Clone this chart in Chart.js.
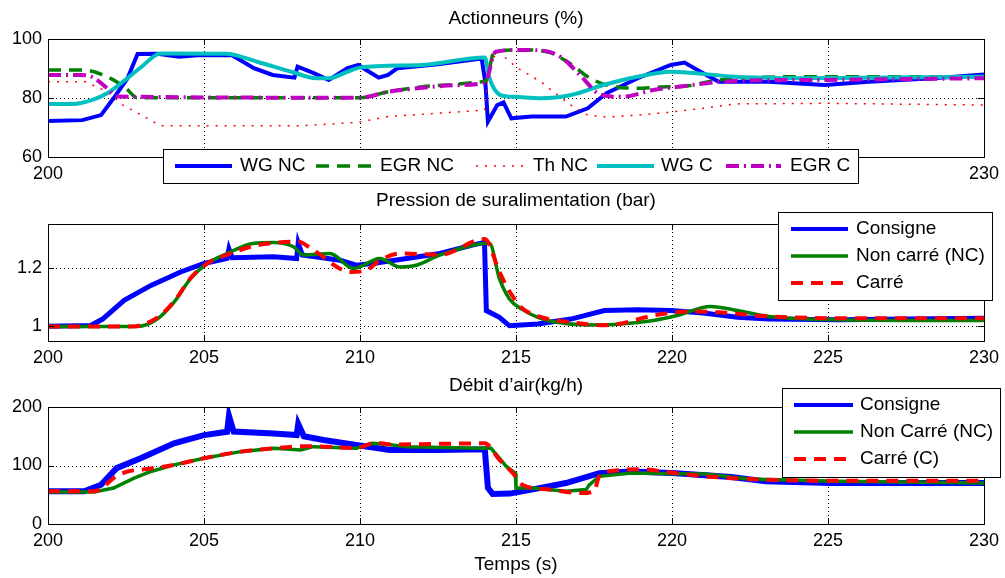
<!DOCTYPE html>
<html><head><meta charset="utf-8">
<script src="https://cdn.jsdelivr.net/npm/chart.js@4.4.1/dist/chart.umd.min.js"></script>
<style>
body{margin:0;background:#fff;width:1005px;height:578px;overflow:hidden;position:relative}
canvas{position:absolute;left:0}
</style></head><body>
<canvas id="c1" width="1005" height="185" style="top:0px"></canvas>
<canvas id="c2" width="1005" height="185" style="top:185px"></canvas>
<canvas id="c3" width="1005" height="208" style="top:370px"></canvas>
<script>
// ---------- tick labels ----------
const xTicks = [200,205,210,215,220,225,230];
const yTicks1 = [60,80,100];
const yTicks2 = [1,1.2];
const yTicks3 = [0,100,200];

// ---------- Plot 1 : Actionneurs (%) ----------
const tWgNC = [200,201.1,201.7,202.1,202.55,202.87,203.5,204.2,204.8,205.3,205.9,206.6,207.2,207.9,208.0,208.5,209.0,209.6,209.95,210.2,210.6,210.9,211.2,212.5,213.9,214.02,214.1,214.4,214.6,214.85,215.5,216.6,217.3,217.9,218.9,219.96,220.4,221.0,221.5,223.1,224.9,226.3,228.4,230];
const wgNC  = [72.2,72.5,74.2,79.9,86.7,94.9,95,94,94.5,94.5,94.5,90.1,87.8,86.9,90.6,88.5,86.1,90.1,91.2,89.5,86.9,87.8,90.1,91.4,93.4,85,72,77.6,78.5,73.1,73.7,73.7,76.5,81.6,86.7,91.2,92,88.4,85.5,85.5,84.4,85.5,86.7,88.0];
const tEgrNC = [200,201.1,201.9,202.5,202.85,210.0,210.9,212.0,213.0,213.9,214.05,214.3,215.2,216.0,216.8,217.3,217.9,218.9,219.85,220.2,221.5,224.2,230];
const egrNC  = [89.5,89.5,87.2,83.3,80.1,80.1,82.1,83.8,84.6,85.5,86,95.7,96.3,95.7,91.2,87.2,84.4,83.3,83.8,83.8,86.1,87.2,87.2];
const tThNC = [200,201.2,201.9,202.4,203.0,203.6,208.1,209.9,210.9,212.0,214.0,214.1,214.4,215.05,215.8,216.2,216.76,217.3,217.9,218.9,219.85,221.0,222.0,224.9,230];
const thNC  = [85.5,85.5,82.1,77.6,74.2,70.6,70.6,71.7,73.7,74.5,75.9,90,96,90.1,85.5,82.1,77.6,74.2,73.5,74.2,75.1,76.5,78,78.2,77.6];
const tWgC = [200,200.8,201.4,201.9,202.4,203.0,203.6,205.7,206.7,207.8,208.6,209.0,209.6,210.0,212.0,214.0,214.15,214.5,214.95,215.8,216.76,217.8,218.9,219.96,222.0,224.2,230];
const wgC  = [78,78,79.3,81.6,85.5,90.6,95.1,95,92.3,88.9,86.7,86.7,88.9,90.3,91.2,93.7,86.7,81,80.4,79.9,81,84.4,87.2,88.9,87.2,86.7,87.2];
const tEgrC = [200,201.0,201.4,201.9,202.2,210.0,210.9,212.0,213.0,213.9,214.05,214.35,215.2,216.0,216.5,217.1,217.7,218.4,219.4,220.2,222.0,224.5,230];
const egrC  = [87.8,87.8,87.2,83.3,80.5,80.1,82.1,83.5,84.3,85,86,95.7,96.3,95.8,93.4,87.2,81.2,80.4,82.7,83.8,85.8,86.1,86.7];

// ---------- Plot 2 : Pression de suralimentation (bar) ----------
const tCons2 = [200,201.37,201.75,202.44,203.3,204.25,205.0,205.74,205.8,205.9,207.23,207.97,208.02,208.15,209.36,209.88,210.4,211.5,212.56,213.6,213.99,214.05,214.47,214.79,215.7,216.76,217.83,218.9,219.96,221.0,222.1,223.1,225.3,230];
const cons2  = [1.0,1.003,1.025,1.089,1.14,1.186,1.215,1.232,1.265,1.235,1.238,1.232,1.285,1.244,1.226,1.209,1.215,1.232,1.249,1.278,1.287,1.054,1.031,1.002,1.008,1.025,1.054,1.057,1.054,1.046,1.031,1.025,1.023,1.028];
const tNc2 = [200,202.87,203.5,204.04,204.57,205.1,205.74,206.6,207.23,207.87,208.19,209.04,209.79,210.64,211.28,211.8,212.56,214.15,214.47,214.79,215.17,215.7,216.2,217.3,218.36,219.4,220.16,221.24,222.1,223.1,225.3,230];
const nc2  = [1.0,1.0,1.025,1.083,1.163,1.215,1.249,1.284,1.287,1.272,1.244,1.249,1.198,1.232,1.203,1.209,1.244,1.284,1.163,1.094,1.06,1.031,1.016,1.005,1.008,1.02,1.037,1.068,1.054,1.034,1.023,1.02];
const tC2 = [200,202.7,203.5,204.04,204.57,205.1,205.74,206.6,207.23,208.0,208.5,209.7,210.2,210.64,211.3,212.56,214.0,214.47,214.79,215.17,215.7,216.76,217.83,218.36,219.4,220.5,221.5,223.1,225.3,230];
const c2  = [1.0,1.0,1.03,1.085,1.165,1.215,1.245,1.275,1.285,1.29,1.261,1.186,1.192,1.226,1.249,1.245,1.299,1.186,1.12,1.065,1.035,1.014,1.004,1.01,1.037,1.051,1.048,1.034,1.028,1.028];

// ---------- Plot 3 : Débit d'air (kg/h) ----------
const tCons3 = [200,201.16,201.7,202.2,202.97,204.04,205.0,205.74,205.8,205.95,207.23,207.97,208.02,208.2,208.83,209.88,210.96,212.5,214.0,214.1,214.25,214.8,215.5,216.6,217.67,218.7,220.0,221.9,223.0,225.1,230];
const cons3  = [55.9,56,67.2,95.5,112.4,137.9,152,157.6,185,158,154.8,152,171,150,143.5,135,126.6,126.6,127.7,61.6,51.4,52,58.8,70,87,89.8,87,80.2,72.9,70,70];
const tNc3 = [200,201.48,202.1,202.76,203.3,204.04,205.0,206.17,207.23,208.1,208.5,209.88,210.4,210.9,211.5,213.9,214.2,214.69,214.98,215.0,215.5,216.6,217.25,217.35,217.67,218.7,220.0,221.08,222.46,225.3,230];
const nc3  = [54.8,54.8,61.6,78.5,89.8,101,112.4,123.7,129.4,126.6,132.2,129.4,137.9,136,132.2,129.4,129.4,98.3,87,61.6,61.6,55.9,58.8,67,81.4,87,85.9,85.3,76.8,72.9,70];
const tC3 = [200,201.5,201.8,202.1,202.55,202.97,204.04,205.0,206.17,207.23,208.3,209.88,210.5,211.0,214.0,214.47,214.9,215.2,216.07,217.1,217.5,217.67,218.2,218.95,220.1,221.1,222.46,225.3,230];
const c3  = [55.9,55.9,64.4,78.5,89.8,92.7,101,112.4,123.7,129.4,133,130,139,136,137.9,109.6,87,67.2,58.8,53,55.9,81.4,91.5,93.8,87,81.4,76.8,74,74];

const BLUE='#0000ff', GREEN='#008000', RED='#ff0000', CYAN='#00bfbf', MAG='#bf00bf';
const FONT='Liberation Sans, Arial, Helvetica, sans-serif';

function zip(t,v){ return t.map((x,i)=>({x:x,y:v[i]})); }

const decor = {
  id:'decor',
  beforeDatasetsDraw(chart, args, o){
    const ctx=chart.ctx, a=chart.chartArea, xs=chart.scales.x, ys=chart.scales.y;
    ctx.save();
    ctx.strokeStyle='#000'; ctx.lineWidth=1; ctx.setLineDash([1,3]);
    xs.ticks.forEach(t=>{ const p=Math.round(xs.getPixelForValue(t.value))+0.5;
      if(p>a.left+2 && p<a.right-2){ ctx.beginPath(); ctx.moveTo(p,a.top); ctx.lineTo(p,a.bottom); ctx.stroke(); }});
    ys.ticks.forEach(t=>{ const p=Math.round(ys.getPixelForValue(t.value))+0.5;
      if(p>a.top+2 && p<a.bottom-2){ ctx.beginPath(); ctx.moveTo(a.left,p); ctx.lineTo(a.right,p); ctx.stroke(); }});
    ctx.restore();
  },
  afterDraw(chart, args, o){
    const ctx=chart.ctx, a=chart.chartArea, xs=chart.scales.x, ys=chart.scales.y;
    ctx.save();
    ctx.setLineDash([]); ctx.strokeStyle='#000'; ctx.lineWidth=1;
    // inner ticks
    xs.ticks.forEach(t=>{ const p=Math.round(xs.getPixelForValue(t.value))+0.5;
      ctx.beginPath(); ctx.moveTo(p,a.bottom); ctx.lineTo(p,a.bottom-6); ctx.moveTo(p,a.top); ctx.lineTo(p,a.top+6); ctx.stroke(); });
    ys.ticks.forEach(t=>{ const p=Math.round(ys.getPixelForValue(t.value))+0.5;
      ctx.beginPath(); ctx.moveTo(a.left,p); ctx.lineTo(a.left+6,p); ctx.moveTo(a.right,p); ctx.lineTo(a.right-6,p); ctx.stroke(); });
    // box
    ctx.strokeRect(Math.round(a.left)+0.5, Math.round(a.top)+0.5, Math.round(a.right-a.left), Math.round(a.bottom-a.top));
    // title
    ctx.fillStyle='#000'; ctx.font='19px '+FONT; ctx.textAlign='center'; ctx.textBaseline='middle';
    ctx.fillText(o.title, (a.left+a.right)/2, o.titleY);
    if(o.xlabel){ ctx.fillText(o.xlabel, (a.left+a.right)/2, o.xlabelY); }
    // legend
    const L=o.legend;
    ctx.fillStyle='#fff'; ctx.fillRect(L.x, L.y, L.w, L.h);
    ctx.strokeStyle='#000'; ctx.lineWidth=1; ctx.strokeRect(L.x+0.5, L.y+0.5, L.w, L.h);
    ctx.textAlign='left';
    L.items.forEach(it=>{
      const ds=chart.data.datasets[it.ds];
      ctx.strokeStyle=ds.borderColor; ctx.lineWidth=it.lw||ds.borderWidth; ctx.setLineDash(ds.borderDash||[]);
      ctx.lineCap='butt';
      ctx.beginPath(); ctx.moveTo(it.lx0, it.y); ctx.lineTo(it.lx1, it.y); ctx.stroke();
      ctx.setLineDash([]); ctx.fillStyle='#000'; ctx.font='19px '+FONT;
      ctx.fillText(ds.label, it.tx, it.y);
    });
    ctx.restore();
  }
};

function makeChart(id, datasets, ymin, ymax, yTicks, padTop, xAxisH, deco){
  const n=datasets.length;
  datasets.forEach((d,i)=>{ d.order=n-i; d.pointRadius=0; d.fill=false; if(d.cubicInterpolationMode===undefined) d.tension=0; d.borderCapStyle='butt'; });
  return new Chart(document.getElementById(id), {
    type:'line',
    data:{datasets:datasets},
    options:{
      responsive:false, animation:false, devicePixelRatio:1,
      layout:{padding:{top:padTop,right:19,left:0,bottom:0}},
      plugins:{legend:{display:false}, tooltip:{enabled:false}, title:{display:false}, decor:deco},
      scales:{
        x:{type:'linear', min:200, max:230,
           afterBuildTicks:s=>{ s.ticks=xTicks.map(v=>({value:v})); },
           afterFit:s=>{ s.height=xAxisH; },
           grid:{display:false, drawTicks:false}, border:{display:false},
           ticks:{color:'#000', font:{family:FONT,size:18}, padding:6, maxRotation:0, autoSkip:false, callback:v=>String(v)}},
        y:{type:'linear', min:ymin, max:ymax,
           afterBuildTicks:s=>{ s.ticks=yTicks.map(v=>({value:v})); },
           afterFit:s=>{ s.width=48; },
           grid:{display:false, drawTicks:false}, border:{display:false},
           ticks:{color:'#000', font:{family:FONT,size:18}, padding:6, autoSkip:false, callback:v=>String(v)}}
      }
    },
    plugins:[decor]
  });
}

// Chart 1
makeChart('c1', [
  {label:'WG NC', data:zip(tWgNC,wgNC), borderColor:BLUE, borderWidth:4},
  {label:'EGR NC', data:zip(tEgrNC,egrNC), borderColor:GREEN, borderWidth:3.5, borderDash:[13,8], cubicInterpolationMode:'monotone'},
  {label:'Th NC', data:zip(tThNC,thNC), borderColor:RED, borderWidth:1.5, borderDash:[2,7]},
  {label:'WG C', data:zip(tWgC,wgC), borderColor:CYAN, borderWidth:4, cubicInterpolationMode:'monotone'},
  {label:'EGR C', data:zip(tEgrC,egrC), borderColor:MAG, borderWidth:4, borderDash:[13,5,2,5], cubicInterpolationMode:'monotone'}
], 60, 100, yTicks1, 39, 28, {
  title:'Actionneurs (%)', titleY:19,
  legend:{x:163, y:149, w:695, h:34, items:[
    {ds:0, lx0:175, lx1:232, tx:240, y:166},
    {ds:1, lx0:316, lx1:372, tx:380, y:166},
    {ds:2, lx0:476, lx1:530, tx:533, y:166},
    {ds:3, lx0:597, lx1:654, tx:661, y:166},
    {ds:4, lx0:726, lx1:781, tx:790, y:166}
  ]}
});

// Chart 2
makeChart('c2', [
  {label:'Consigne', data:zip(tCons2,cons2), borderColor:BLUE, borderWidth:5},
  {label:'Non carré (NC)', data:zip(tNc2,nc2), borderColor:GREEN, borderWidth:3.5, cubicInterpolationMode:'monotone'},
  {label:'Carré', data:zip(tC2,c2), borderColor:RED, borderWidth:4, borderDash:[12,8], cubicInterpolationMode:'monotone'}
], 0.95, 1.35, yTicks2, 39, 29, {
  title:'Pression de suralimentation (bar)', titleY:16,
  legend:{x:778, y:27, w:214, h:88, items:[
    {ds:0, lx0:791, lx1:848, tx:856, y:44, lw:4},
    {ds:1, lx0:791, lx1:848, tx:856, y:71},
    {ds:2, lx0:791, lx1:848, tx:856, y:98}
  ]}
});

// Chart 3
makeChart('c3', [
  {label:'Consigne', data:zip(tCons3,cons3), borderColor:BLUE, borderWidth:6},
  {label:'Non Carré (NC)', data:zip(tNc3,nc3), borderColor:GREEN, borderWidth:3.5},
  {label:'Carré (C)', data:zip(tC3,c3), borderColor:RED, borderWidth:4, borderDash:[12,8], cubicInterpolationMode:'monotone'}
], 0, 200, yTicks3, 37, 54, {
  title:'Débit d\u2019air(kg/h)', titleY:16, xlabel:'Temps (s)', xlabelY:195,
  legend:{x:782, y:18, w:218, h:89, items:[
    {ds:0, lx0:794, lx1:853, tx:860, y:35, lw:4},
    {ds:1, lx0:794, lx1:853, tx:860, y:62},
    {ds:2, lx0:794, lx1:853, tx:860, y:89}
  ]}
});
</script>
</body></html>
